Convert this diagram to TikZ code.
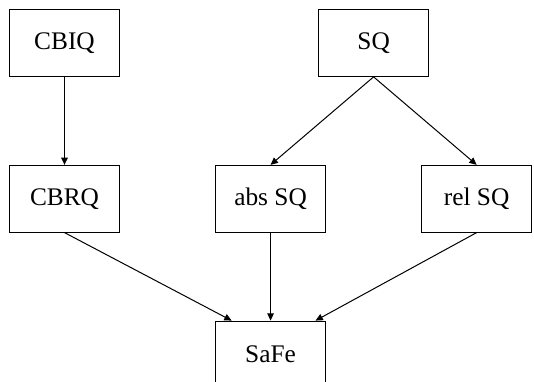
\documentclass[tikz,border=0pt]{standalone}
\usepackage{fontspec}
\setmainfont{Liberation Serif}
\usepackage{tikz}
\usetikzlibrary{shapes, arrows.meta, positioning, calc}

\begin{document}
\begin{tikzpicture}[
	node distance=66pt and 71.25pt,
	block/.style={rectangle, draw, line width=0.8pt, fill=white, 
		text centered, minimum width=82.5pt, minimum height=50pt,
		font=\fontsize{19}{23}\selectfont},
	line/.style={draw, line width=0.75pt, -{Triangle[length=5.5pt, width=5pt]}},
	]
	\useasboundingbox (-48.375pt,32.25pt) rectangle (352.125pt,-253.5pt);
	
	\node [block] (cbiq) {CBIQ};
	\node [block, below= of cbiq] (cbrq) {CBRQ};
	\node [block, right= of cbrq] (abs) {abs SQ};
	\node [block, right= of abs] (rel) {rel SQ};
	\coordinate (mid) at ($(abs)!0.5!(rel)$);
	\node [block] (sq) at (mid |- cbiq) {SQ};
	\node [block, below= of abs] (safe) {SaFe};
	\path [line] (cbiq) -- (cbrq);
	\path [line] (sq.south) -- (abs.north);
	\path [line] (sq.south) -- (rel.north);
	\path [line] (cbrq.south) -- (safe.139);
	\path [line] (abs) -- (safe);
	\path [line] (rel.south) -- (safe.37);
\end{tikzpicture}
\end{document}
